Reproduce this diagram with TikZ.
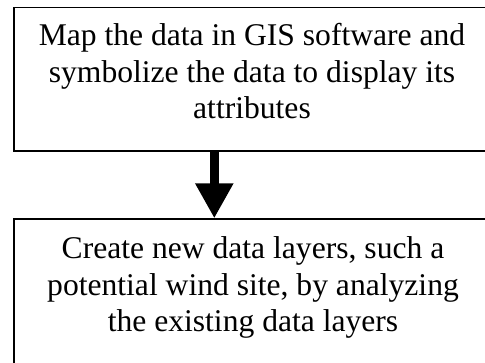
\documentclass[tikz,border=0pt]{standalone}
\usepackage{fontspec}
\setmainfont{Liberation Serif}
\usetikzlibrary{arrows.meta}
\begin{document}
\begin{tikzpicture}[x=1pt,y=1pt,
  frame/.style={draw=black, line width=1.5pt, inner sep=0pt, anchor=north west, minimum width=478pt},
  lbl/.style={align=center, inner sep=0pt, anchor=north, font=\fontsize{31.6}{36.5}\selectfont},
  bigarrow/.style={line width=8.5pt, -{Triangle[length=35pt,width=36pt]}}]
\useasboundingbox (0,0) rectangle (485,-362);
\clip (0,0) rectangle (485,-362);
\node[frame, minimum height=143.5pt] (box1) at (13,-6.7) {};
\node[frame, minimum height=150pt] (box2) at (13,-218.3) {};
\node[lbl] (t1) at (252,-23.4) {Map the data in GIS software and\\symbolize the data to display its\\attributes};
\node[lbl] (t2) at (253,-236.4) {Create new data layers, such a\\potential wind site, by analyzing\\the existing data layers};
\draw[bigarrow] ([xshift=201.3pt]box1.south west) -- ([xshift=201.3pt]box2.north west);
\end{tikzpicture}
\end{document}
